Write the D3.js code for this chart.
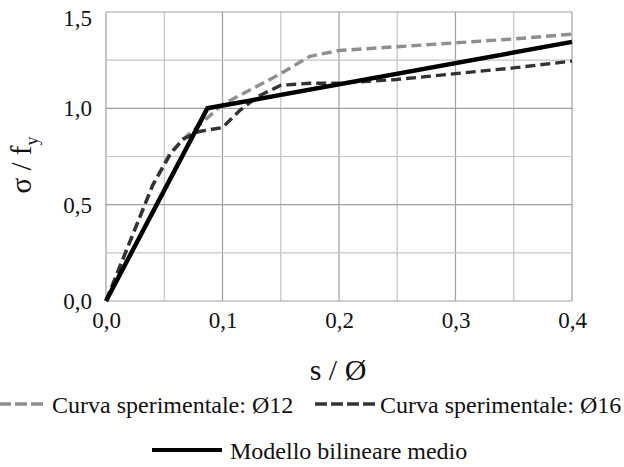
<!DOCTYPE html>
<html lang="it">
<head>
<meta charset="UTF-8">
<title>Modello bilineare</title>
<style>
    body { margin: 0; background: #fff; }
    svg { display: block; }
</style>
<script src="https://d3js.org/d3.v7.min.js"></script>
</head>
<body>
<svg id="chart" width="624" height="467" font-family="Liberation Serif"></svg>
<script>
    // tick values
    const xTicks = [0, 0.1, 0.2, 0.3, 0.4];
    const yTicks = [0, 0.5, 1.0, 1.5];
    const xGrid = [0, 0.05, 0.1, 0.15, 0.2, 0.25, 0.3, 0.35, 0.4];
    const yGrid = [0, 0.25, 0.5, 0.75, 1.0, 1.25, 1.5];

    // s/Ø values
    const s12 = [0, 0.02, 0.04, 0.055, 0.07, 0.087, 0.1, 0.125, 0.15, 0.175, 0.2, 0.25, 0.3, 0.35, 0.4];
    const sig12 = [0, 0.3, 0.6, 0.77, 0.86, 0.95, 1.02, 1.1, 1.18, 1.27, 1.3, 1.32, 1.34, 1.36, 1.385];

    const s16 = [0, 0.02, 0.04, 0.055, 0.066, 0.08, 0.1, 0.115, 0.13, 0.15, 0.175, 0.2, 0.25, 0.3, 0.35, 0.4];
    const sig16 = [0, 0.3, 0.6, 0.76, 0.84, 0.88, 0.9, 0.99, 1.06, 1.12, 1.13, 1.13, 1.15, 1.18, 1.21, 1.245];

    const sBil = [0, 0.087, 0.4];
    const sigBil = [0, 1.0, 1.345];

    const series = [
        { name: "Curva sperimentale: Ø12", s: s12, sig: sig12, color: "#8f8f8f", dash: "10,5", w: 3.4 },
        { name: "Curva sperimentale: Ø16", s: s16, sig: sig16, color: "#333333", dash: "10,5", w: 3.4 },
        { name: "Modello bilineare medio", s: sBil, sig: sigBil, color: "#000000", dash: null, w: 4.5 }
    ];

    const svg = d3.select("#chart");
    const x = d3.scaleLinear().domain([0, 0.4]).range([106, 572]);
    const y = d3.scaleLinear().domain([0, 1.5]).range([301, 12]);
    const fmt = d => d.toFixed(1).replace(".", ",");
    const isMajorX = d => Math.abs(d * 10 - Math.round(d * 10)) < 1e-6;
    const isMajorY = d => Math.abs(d * 2 - Math.round(d * 2)) < 1e-6;

    // grid
    const grid = svg.append("g");
    grid.selectAll(".vx").data(xGrid).enter().append("line")
        .attr("x1", d => x(d)).attr("x2", d => x(d))
        .attr("y1", y(0)).attr("y2", y(1.5))
        .attr("stroke", d => isMajorX(d) ? "#a0a0a0" : "#c4c4c4")
        .attr("stroke-width", 1.2);
    grid.selectAll(".hy").data(yGrid).enter().append("line")
        .attr("x1", x(0)).attr("x2", x(0.4))
        .attr("y1", d => y(d)).attr("y2", d => y(d))
        .attr("stroke", d => isMajorY(d) ? "#a0a0a0" : "#c4c4c4")
        .attr("stroke-width", 1.2);

    // axes
    const xAxis = svg.append("g")
        .attr("transform", `translate(0,${y(0)})`)
        .call(d3.axisBottom(x).tickValues(xTicks).tickFormat(fmt).tickSize(0).tickPadding(11));
    const yAxis = svg.append("g")
        .attr("transform", `translate(${x(0)},0)`)
        .call(d3.axisLeft(y).tickValues(yTicks).tickFormat(fmt).tickSize(0).tickPadding(14));
    [xAxis, yAxis].forEach(a => {
        a.attr("font-family", "Liberation Serif").attr("font-size", 23);
        a.select(".domain").remove();
        a.selectAll("text").attr("fill", "#111");
    });
    yAxis.selectAll("text").filter(d => d === 1.5).attr("dy", "0.6em");

    // lines
    const line = d3.line().x(d => x(d[0])).y(d => y(d[1]));
    series.forEach(sr => {
        svg.append("path")
            .datum(sr.s.map((v, i) => [v, sr.sig[i]]))
            .attr("d", line)
            .attr("fill", "none")
            .attr("stroke", sr.color)
            .attr("stroke-width", sr.w)
            .attr("stroke-dasharray", sr.dash)
            .attr("stroke-linejoin", "round");
    });

    // axis titles
    svg.append("text")
        .attr("x", 338).attr("y", 380)
        .attr("text-anchor", "middle")
        .attr("font-size", 30)
        .attr("fill", "#111")
        .text("s / Ø");

    const yt = svg.append("text")
        .attr("transform", "translate(31,165) rotate(-90)")
        .attr("text-anchor", "middle")
        .attr("font-size", 29)
        .attr("fill", "#111");
    yt.append("tspan").text("σ / f");
    yt.append("tspan").attr("font-size", 18).attr("dy", 7).text("y");

    // legend
    const legendPos = [
        { x1: -17, x2: 45, tx: 52, ly: 404 },
        { x1: 315, x2: 377, tx: 380, ly: 404 },
        { x1: 152, x2: 222, tx: 230, ly: 450 }
    ];
    series.forEach((sr, i) => {
        const p = legendPos[i];
        svg.append("line")
            .attr("x1", p.x1).attr("x2", p.x2)
            .attr("y1", p.ly).attr("y2", p.ly)
            .attr("stroke", sr.color)
            .attr("stroke-width", sr.dash ? 3.4 : 4)
            .attr("stroke-dasharray", sr.dash ? "12,4" : null);
        svg.append("text")
            .attr("x", p.tx).attr("y", p.ly + 9)
            .attr("font-size", 24)
            .attr("fill", "#111")
            .text(sr.name);
    });
</script>
</body>
</html>
